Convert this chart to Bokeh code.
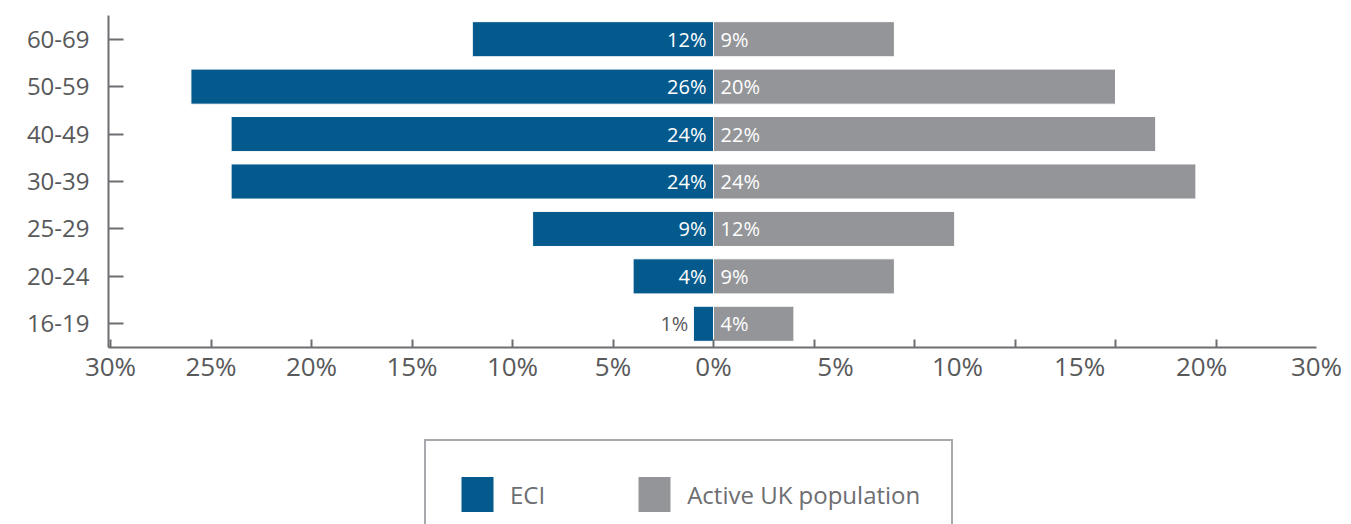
from bokeh.plotting import figure
from bokeh.layouts import column
from bokeh.models import ColumnDataSource, FactorRange, Range1d, FixedTicker, Legend, LegendItem
from bokeh.core.properties import value
from bokeh.embed import file_html
from bokeh.resources import INLINE

# ---- data ----
age_groups = ["16-19", "20-24", "25-29", "30-39", "40-49", "50-59", "60-69"]
eci_pct = [1, 4, 9, 24, 24, 26, 12]
active_uk_pct = [4, 9, 12, 24, 22, 20, 9]

left_tick_values = [-30, -25, -20, -15, -10, -5, 0]
left_tick_labels = ["30%", "25%", "20%", "15%", "10%", "5%", "0%"]
right_tick_labels = ["5%", "10%", "15%", "20%", "30%"]
minor_tick_values = [-30, -25, -20, -15, -10, -5, 0, 5, 10, 15, 20, 25]
series_names = ["ECI", "Active UK population"]

# ---- style ----
BLUE = "#045a8d"
GREY = "#939598"
TEXT = "#58595b"
AXIS = "#6d6e71"
FONT = "Open Sans"

# the original chart spreads its right-hand labels evenly (not on the ticks)
right_step = 6.07
right_label_pos = [round(right_step * k, 2) for k in range(1, 5)] + [30]

src = ColumnDataSource(dict(
    group=age_groups,
    eci_left=[-v for v in eci_pct],
    active=active_uk_pct,
    active_text=[f"{v}%" for v in active_uk_pct],
))

inside = [i for i, v in enumerate(eci_pct) if v >= 2]
outside = [i for i, v in enumerate(eci_pct) if v < 2]
src_in = ColumnDataSource(dict(
    group=[age_groups[i] for i in inside],
    text=[f"{eci_pct[i]}%" for i in inside],
))
src_out = ColumnDataSource(dict(
    group=[age_groups[i] for i in outside],
    x=[-eci_pct[i] for i in outside],
    text=[f"{eci_pct[i]}%" for i in outside],
))

W = 1351
p = figure(width=W, height=420,
           y_range=FactorRange(*age_groups), x_range=Range1d(-30.1, 30.0),
           output_backend="svg", toolbar_location=None,
           min_border_left=108, min_border_right=35, min_border_top=15, min_border_bottom=73)

p.hbar(y="group", left="eci_left", right=0, height=0.74, fill_color=BLUE,
       line_color="white", line_width=1, source=src)
p.hbar(y="group", left=0, right="active", height=0.74, fill_color=GREY,
       line_color="white", line_width=1, source=src)

p.text(x=0, y="group", text="text", source=src_in, x_offset=-7, text_align="right",
       text_baseline="middle", text_color="white", text_font=value(FONT), text_font_size="20px")
p.text(x="x", y="group", text="text", source=src_out, x_offset=-5, text_align="right",
       text_baseline="middle", text_color=TEXT, text_font=value(FONT), text_font_size="20px")
p.text(x=0, y="group", text="active_text", source=src, x_offset=7, text_align="left",
       text_baseline="middle", text_color="white", text_font=value(FONT), text_font_size="20px")

# axes
p.grid.visible = False
p.outline_line_color = None

xa = p.xaxis[0]
xa.ticker = FixedTicker(ticks=left_tick_values + right_label_pos, minor_ticks=minor_tick_values)
overrides = dict(zip(left_tick_values, left_tick_labels))
overrides.update(dict(zip(right_label_pos, right_tick_labels)))
xa.major_label_overrides = overrides
xa.major_tick_in = 0
xa.major_tick_out = 0
xa.minor_tick_in = 8
xa.minor_tick_out = 0
xa.minor_tick_line_color = AXIS
xa.minor_tick_line_width = 2
xa.axis_line_color = AXIS
xa.axis_line_width = 2
xa.major_label_text_font = FONT
xa.major_label_text_font_size = "26px"
xa.major_label_text_color = TEXT
xa.major_label_standoff = 0

ya = p.yaxis[0]
ya.major_tick_in = 15
ya.major_tick_out = 0
ya.major_tick_line_color = AXIS
ya.major_tick_line_width = 2
ya.axis_line_color = AXIS
ya.axis_line_width = 2
ya.major_label_text_font = FONT
ya.major_label_text_font_size = "24px"
ya.major_label_text_color = TEXT
ya.major_label_standoff = 19

# ---- legend strip (its box runs past the bottom edge, as in the original) ----
# the strip's frame is aligned with the chart's frame (left edge at 108px).
# Its y range holds other factors, so the bars below are not drawn here:
# they only supply the legend keys.
lg = figure(width=W, height=104, x_range=Range1d(0, 1), y_range=FactorRange(*series_names),
            x_axis_type=None, y_axis_type=None, output_backend="svg", toolbar_location=None,
            min_border=0, min_border_left=108, min_border_right=35, min_border_top=0, min_border_bottom=0)
lg.grid.visible = False
lg.outline_line_color = None
k_eci = lg.hbar(y="group", left="eci_left", right=0, height=0.74, fill_color=BLUE, line_color=None, source=src)
k_act = lg.hbar(y="group", left=0, right="active", height=0.74, fill_color=GREY, line_color=None, source=src)

legend = Legend(
    items=[LegendItem(label=series_names[0], renderers=[k_eci]),
           LegendItem(label=series_names[1], renderers=[k_act])],
    orientation="horizontal", location=(316, -25),
    glyph_width=40, glyph_height=44, label_standoff=13, spacing=89, padding=31,
    border_line_color="#a7a9ac", border_line_width=2, border_line_alpha=1,
    background_fill_color="white", background_fill_alpha=1,
    label_text_font=FONT, label_text_font_size="24px", label_text_color="#6d6e71",
    margin=0,
)
lg.add_layout(legend, "center")

open("out.html", "w").write(file_html(column(p, lg, spacing=0), INLINE))
